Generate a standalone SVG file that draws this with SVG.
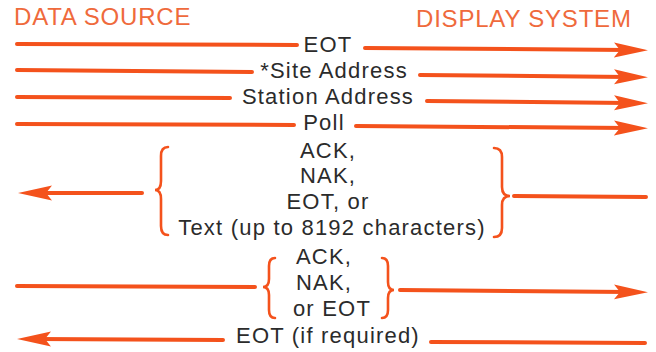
<svg xmlns="http://www.w3.org/2000/svg" width="656" height="352" viewBox="0 0 656 352">
<style>
.hdr{font-family:"Liberation Sans",Arial,sans-serif;font-size:24px;fill:#ef6a3c;letter-spacing:0.8px}
.lbl{font-family:"Liberation Sans",Arial,sans-serif;font-size:22px;fill:#2b2b2b;letter-spacing:1.2px;text-anchor:middle}
.ln{stroke:#f4521c;stroke-width:4;fill:none;stroke-linecap:round}
.br{stroke:#f4521c;stroke-width:2.6;fill:none;stroke-linecap:round}
</style>
<defs>
<marker id="ah" viewBox="0 -8 34 16" refX="14" refY="0" markerWidth="34" markerHeight="16" markerUnits="userSpaceOnUse" orient="auto">
<path d="M34,0 L0,-7.5 L6,0 L0,7.5 Z" fill="#f4521c"/>
</marker>
</defs>
<g id="headers">
<text class="hdr" x="14" y="25">DATA SOURCE</text>
<text class="hdr" x="416" y="27">DISPLAY SYSTEM</text>
</g>
<g id="labels">
<text class="lbl" x="328" y="52">EOT</text>
<text class="lbl" x="334" y="78">*Site Address</text>
<text class="lbl" x="328" y="104">Station Address</text>
<text class="lbl" x="324" y="130">Poll</text>
<g id="resp1">
<text class="lbl" x="328" y="158">ACK,</text>
<text class="lbl" x="328" y="183">NAK,</text>
<text class="lbl" x="328" y="209">EOT, or</text>
<text class="lbl" x="332" y="235">Text (up to 8192 characters)</text>
</g>
<g id="resp2">
<text class="lbl" x="324" y="264">ACK,</text>
<text class="lbl" x="324" y="290">NAK,</text>
<text class="lbl" x="332" y="316">or EOT</text>
</g>
<text class="lbl" x="328" y="343">EOT (if required)</text>
</g>
<g id="braces">
<path class="br" d="M168,147 Q161,147 161,156 L161,181 Q161,190 155,190 Q161,190 161,199 L161,226 Q161,235 168,235"/>
<path class="br" d="M494,148 Q502,148 502,157 L502,187 Q502,196 510,196 Q502,196 502,205 L502,228 Q502,237 494,237"/>
<path class="br" d="M275,258 Q269,258 269,266 L269,279 Q269,287 263,287 Q269,287 269,295 L269,310 Q269,318 275,318"/>
<path class="br" d="M382,258 Q388,258 388,266 L388,282 Q388,290 394,290 Q388,290 388,298 L388,310 Q388,318 382,318"/>
</g>
<g id="connectors">
<line class="ln" x1="17" y1="44" x2="297" y2="45"/>
<line class="ln" x1="365" y1="48" x2="628" y2="50" marker-end="url(#ah)"/>
<line class="ln" x1="17" y1="70" x2="252" y2="72"/>
<line class="ln" x1="420" y1="75" x2="628" y2="77" marker-end="url(#ah)"/>
<line class="ln" x1="17" y1="97" x2="230" y2="98"/>
<line class="ln" x1="427" y1="101" x2="628" y2="103" marker-end="url(#ah)"/>
<line class="ln" x1="17" y1="124" x2="294" y2="125"/>
<line class="ln" x1="356" y1="126" x2="628" y2="128" marker-end="url(#ah)"/>
<line class="ln" x1="142" y1="193" x2="38" y2="193" marker-end="url(#ah)"/>
<line class="ln" x1="514" y1="196" x2="646" y2="197"/>
<line class="ln" x1="17" y1="286" x2="255" y2="287"/>
<line class="ln" x1="400" y1="290" x2="628" y2="292" marker-end="url(#ah)"/>
<line class="ln" x1="223" y1="340" x2="37" y2="339" marker-end="url(#ah)"/>
<line class="ln" x1="431" y1="342" x2="645" y2="343"/>
</g>
</svg>
